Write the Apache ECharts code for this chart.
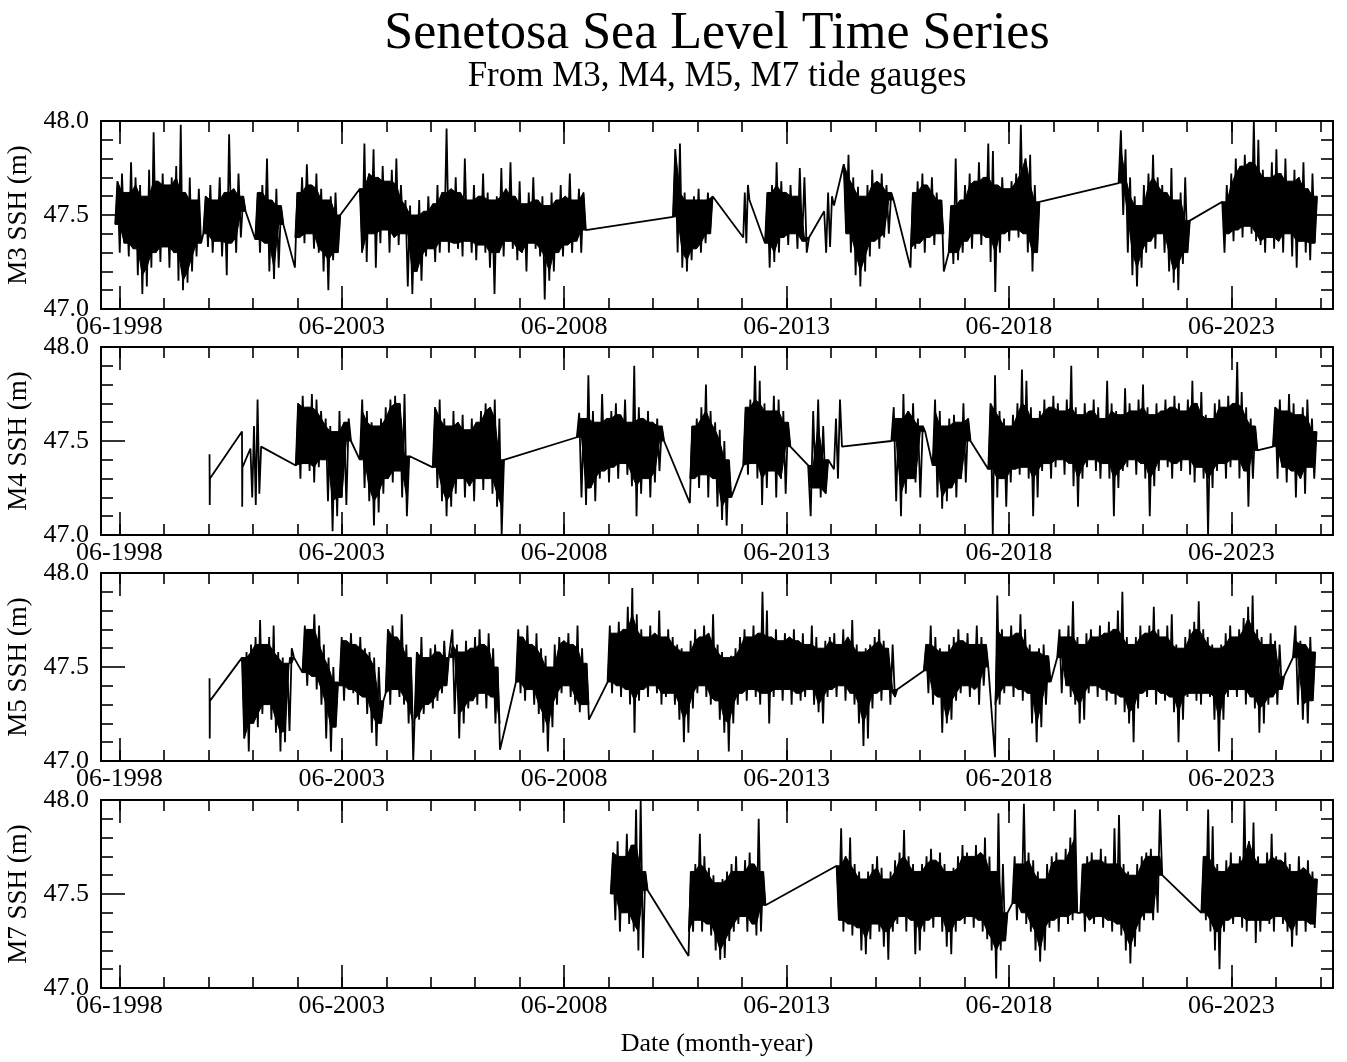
<!DOCTYPE html>
<html>
<head>
<meta charset="utf-8">
<script src="https://cdn.jsdelivr.net/npm/echarts@6/dist/echarts.min.js"></script>
<style>html,body{margin:0;padding:0;background:#fff}#c{width:1347px;height:1062px}</style>
</head>
<body>
<div id="c"></div>
<script>
// ---- Tick labels / axes ----
const majorYears = [1998, 2003, 2008, 2013, 2018, 2023];
const minorYears = [1998,1999,2000,2001,2002,2003,2004,2005,2006,2007,2008,2009,2010,2011,2012,2013,2014,2015,2016,2017,2018,2019,2020,2021,2022,2023,2024,2025];
const gaugeNames = ['M3 SSH (m)', 'M4 SSH (m)', 'M5 SSH (m)', 'M7 SSH (m)'];

// ---- M3: recording spans (decimal years) and sampled SSH values (m) ----
const m3Spans = [[1998.32,2000.25],[2000.30,2001.25],[2001.47,2002.10],[2002.36,2003.38],[2003.82,2008.90],[2010.86,2011.75],[2012.44,2012.58],[2012.93,2013.92],[2014.26,2014.48],[2014.70,2015.82],[2016.20,2016.95],[2017.06,2019.10],[2020.88,2022.48],[2023.21,2025.34]];
const m3Values = [
 [47.45,47.68,47.30,47.72,47.35,47.62,47.28,47.78,47.32,47.70,47.18,47.66,47.08,47.60,47.12,47.74,47.22,47.94,47.30,47.68,47.25,47.72,47.33,47.66,47.22,47.70,47.30,47.76,47.15,47.98,47.10,47.62,47.14,47.70,47.20,47.58,47.28,47.64,47.35],
 [47.40,47.60,47.33,47.66,47.30,47.58,47.36,47.70,47.28,47.62,47.18,47.93,47.35,47.64,47.30,47.72,47.38,47.60,47.52],
 [47.37,47.62,47.30,47.66,47.35,47.80,47.20,47.58,47.16,47.64,47.22,47.55,47.45],
 [47.22,47.62,47.38,47.70,47.35,47.77,47.40,47.66,47.32,47.72,47.30,47.64,47.20,47.58,47.10,47.60,47.26,47.62,47.30,47.50],
 [47.64,47.30,47.88,47.25,47.72,47.40,47.85,47.22,47.70,47.35,47.76,47.42,47.68,47.30,47.74,47.38,47.80,47.34,47.66,47.40,
  47.58,47.12,47.55,47.08,47.50,47.20,47.58,47.15,47.52,47.28,47.60,47.32,47.56,47.25,47.66,47.30,47.62,47.36,47.96,47.30,
  47.64,47.35,47.70,47.32,47.62,47.28,47.80,47.36,47.58,47.30,47.66,47.26,47.60,47.34,47.72,47.30,47.62,47.22,47.58,47.08,
  47.60,47.30,47.75,47.28,47.64,47.36,47.78,47.32,47.60,47.26,47.68,47.30,47.56,47.20,47.62,47.35,47.70,47.32,47.58,47.28,
  47.60,47.05,47.55,47.15,47.62,47.20,47.58,47.30,47.66,47.28,47.60,47.34,47.72,47.30,47.58,47.36,47.64,47.30,47.62,47.42],
 [47.49,47.85,47.30,47.88,47.22,47.62,47.20,47.58,47.26,47.60,47.32,47.64,47.30,47.58,47.35,47.62,47.40,47.60],
 [47.38,47.62,47.35,47.66,47.58],
 [47.35,47.62,47.22,47.66,47.25,47.78,47.30,47.68,47.38,47.62,47.34,47.66,47.40,47.60,47.32,47.75,47.36,47.70,47.30,47.38],
 [47.52,47.30,47.62,47.33,47.60,47.55],
 [47.77,47.40,47.82,47.30,47.70,47.18,47.65,47.12,47.60,47.20,47.66,47.28,47.74,47.36,47.68,47.32,47.72,47.38,47.66,47.40,47.62,47.58],
 [47.22,47.62,47.32,47.68,47.35,47.72,47.30,47.66,47.38,47.70,47.34,47.62,47.40,47.58,47.20],
 [47.30,47.55,47.24,47.80,47.26,47.58,47.30,47.66,47.36,47.72,47.32,47.68,47.40,47.78,47.34,47.70,47.38,47.88,47.25,47.84,47.09,47.66,47.30,47.70,47.40,47.64,47.36,47.68,47.42,47.72,47.38,47.98,47.40,47.80,47.30,47.82,47.20,47.66,47.30,47.57],
 [47.67,47.95,47.50,47.85,47.30,47.70,47.18,47.60,47.12,47.55,47.22,47.66,47.30,47.72,47.36,47.82,47.32,47.70,47.40,47.66,47.30,47.62,47.20,47.75,47.14,47.58,47.10,47.62,47.24,47.70,47.30,47.47],
 [47.57,47.30,47.66,47.40,47.72,47.36,47.80,47.42,47.76,47.38,47.82,47.44,47.78,47.40,48.00,47.36,47.90,47.34,47.74,47.30,47.70,47.38,47.78,47.32,47.85,47.36,47.72,47.30,47.80,47.40,47.68,47.28,47.74,47.22,47.70,47.36,47.78,47.30,47.64,47.26,47.72,47.35,47.60]
];

// ---- M4 ----
const m4Spans = [[2000.44,2000.45],[2001.17,2001.18],[2001.36,2001.60],[2002.38,2003.62],[2003.82,2004.93],[2005.46,2007.06],[2008.70,2010.66],[2011.24,2012.17],[2012.44,2013.50],[2013.90,2014.35],[2014.48,2014.66],[2015.77,2016.53],[2016.70,2017.55],[2017.95,2024.00],[2024.35,2025.33]];
const m4Values = [
 [47.43,47.16,47.30],
 [47.55,47.15,47.36],
 [47.46,47.20,47.58,47.16,47.72,47.22,47.47],
 [47.37,47.70,47.30,47.74,47.38,47.68,47.34,47.75,47.28,47.72,47.36,47.66,47.40,47.62,47.18,47.58,47.02,47.55,47.10,47.66,47.20,47.60,47.16,47.62,47.50],
 [47.40,47.72,47.25,47.66,47.18,47.60,47.05,47.58,47.12,47.62,47.22,47.68,47.30,47.72,47.28,47.74,47.34,47.70,47.20,47.75,47.10,47.42],
 [47.36,47.68,47.25,47.72,47.18,47.62,47.10,47.58,47.15,47.66,47.22,47.60,47.30,47.64,47.20,47.56,47.26,47.62,47.18,47.60,47.30,47.66,47.24,47.70,47.30,47.68,47.22,47.72,47.15,47.62,47.00,47.40],
 [47.52,47.65,47.20,47.62,47.16,47.85,47.25,47.66,47.18,47.60,47.30,47.75,47.34,47.62,47.28,47.66,47.36,47.70,47.30,47.64,47.38,47.72,47.32,47.60,47.26,47.90,47.10,47.68,47.22,47.62,47.30,47.66,47.20,47.60,47.28,47.62,47.34,47.58,47.50],
 [47.17,47.58,47.30,47.62,47.25,47.68,47.32,47.80,47.20,47.66,47.30,47.60,47.15,47.56,47.08,47.50,47.05,47.40,47.20],
 [47.37,47.68,47.32,47.72,47.38,47.90,47.30,47.82,47.16,47.70,47.25,47.66,47.34,47.74,47.20,47.72,47.30,47.66,47.22,47.60,47.47],
 [47.37,47.10,47.66,47.25,47.72,47.20,47.58,47.22,47.40],
 [47.35,47.62,47.30,47.72,47.47],
 [47.50,47.68,47.18,47.62,47.10,47.75,47.22,47.66,47.30,47.70,47.28,47.62,47.20,47.58,47.55],
 [47.37,47.72,47.20,47.66,47.14,47.58,47.18,47.62,47.25,47.64,47.20,47.60,47.30,47.70,47.28,47.62,47.50],
 [47.35,47.70,47.00,47.85,47.20,47.66,47.30,47.62,47.15,47.58,47.28,47.64,47.35,47.70,47.32,47.88,47.36,47.82,47.30,47.68,
  47.10,47.62,47.20,47.66,47.34,47.72,47.38,47.68,47.30,47.74,47.36,47.70,47.40,47.66,47.32,47.72,47.38,47.90,47.26,47.68,
  47.15,47.64,47.30,47.70,47.36,47.66,47.40,47.72,47.34,47.68,47.30,47.62,47.38,47.82,47.30,47.70,47.10,47.66,47.25,47.64,
  47.34,47.78,47.36,47.70,47.40,47.66,47.32,47.72,47.38,47.80,47.30,47.68,47.10,47.64,47.26,47.70,47.34,47.66,47.40,47.72,
  47.36,47.68,47.30,47.74,47.38,47.70,47.34,47.66,47.40,47.72,47.32,47.82,47.28,47.70,47.36,47.76,47.30,47.64,47.00,47.62,
  47.25,47.70,47.34,47.72,47.38,47.68,47.30,47.74,47.36,47.70,47.40,47.92,47.30,47.76,47.34,47.68,47.15,47.62,47.30,47.58,47.45],
 [47.47,47.68,47.30,47.72,47.36,47.66,47.28,47.75,47.34,47.70,47.20,47.64,47.30,47.68,47.22,47.72,47.36,47.62,47.30,47.55]
];

// ---- M5 ----
const m5Spans = [[2000.44,2000.45],[2001.17,2002.34],[2002.53,2003.33],[2003.36,2004.35],[2004.40,2005.02],[2005.05,2005.82],[2005.85,2006.97],[2007.33,2008.97],[2009.39,2015.90],[2016.50,2017.95],[2018.10,2019.35],[2019.50,2024.60],[2024.80,2025.30]];
const m5Values = [
 [47.44,47.12,47.32],
 [47.55,47.12,47.58,47.05,47.62,47.20,47.66,47.18,47.75,47.25,47.62,47.30,47.66,47.22,47.72,47.15,47.58,47.05,47.55,47.10,47.52,47.16,47.60,47.55],
 [47.47,47.72,47.40,47.70,47.45,47.78,47.38,47.72,47.30,47.62,47.12,47.55,47.05,47.50,47.18,47.42],
 [47.40,47.66,47.32,47.64,47.38,47.68,47.36,47.62,47.30,47.66,47.34,47.60,47.25,47.58,47.15,47.55,47.08,47.50,47.20,47.32],
 [47.36,47.70,47.30,47.72,47.38,47.66,47.34,47.78,47.30,47.62,47.20,47.55,47.00],
 [47.00,47.58,47.22,47.66,47.25,47.55,47.30,47.60,47.28,47.62,47.32,47.58,47.36,47.64,47.40,47.55],
 [47.55,47.70,47.25,47.62,47.12,47.58,47.20,47.64,47.28,47.60,47.32,47.66,47.30,47.70,47.36,47.62,47.28,47.68,47.34,47.60,47.20,47.50,47.06],
 [47.42,47.70,47.36,47.66,47.32,47.72,47.38,47.62,47.30,47.68,47.25,47.60,47.15,47.56,47.05,47.50,47.18,47.62,47.30,47.66,47.36,47.64,47.40,47.68,47.34,47.62,47.30,47.72,47.26,47.60,47.30,47.52,47.22],
 [47.42,47.72,47.36,47.68,47.40,47.74,47.34,47.70,47.38,47.82,47.30,47.92,47.15,47.78,47.32,47.70,47.38,47.66,47.34,47.72,
  47.40,47.68,47.36,47.80,47.30,47.66,47.34,47.70,47.36,47.66,47.30,47.62,47.22,47.60,47.10,47.58,47.15,47.64,47.28,47.70,
  47.36,47.66,47.40,47.72,47.34,47.68,47.30,47.78,47.32,47.62,47.22,47.58,47.15,47.55,47.05,47.56,47.20,47.60,47.30,47.66,
  47.36,47.70,47.32,47.66,47.38,47.72,47.34,47.68,47.30,47.90,47.36,47.80,47.20,47.66,47.34,47.70,47.38,47.64,47.32,47.68,
  47.38,47.66,47.30,47.70,47.36,47.64,47.32,47.68,47.34,47.62,47.38,47.72,47.30,47.66,47.26,47.60,47.20,47.64,47.34,47.66,
  47.38,47.68,47.34,47.62,47.40,47.70,47.32,47.66,47.36,47.75,47.30,47.62,47.20,47.58,47.08,47.60,47.12,47.62,47.28,47.66,47.36,47.70,47.32,47.64,47.38,47.60,47.30,47.62,47.34,47.38],
 [47.48,47.62,47.36,47.72,47.30,47.66,47.34,47.60,47.15,47.58,47.20,47.62,47.22,47.66,47.32,47.70,47.36,47.64,47.40,47.68,47.34,47.62,47.38,47.72,47.30,47.66,47.40,47.62,47.50],
 [47.02,47.88,47.30,47.70,47.36,47.66,47.40,47.72,47.34,47.68,47.38,47.78,47.32,47.70,47.36,47.62,47.20,47.58,47.10,47.60,47.18,47.62,47.30,47.56,47.42],
 [47.55,47.70,47.36,47.66,47.40,47.72,47.34,47.85,47.30,47.66,47.20,47.62,47.22,47.68,47.36,47.70,47.40,47.66,47.34,47.72,
  47.38,47.68,47.32,47.74,47.36,47.70,47.30,47.80,47.34,47.90,47.26,47.66,47.20,47.62,47.10,47.66,47.28,47.72,47.36,47.68,
  47.34,47.72,47.38,47.82,47.30,47.70,47.36,47.66,47.32,47.72,47.34,47.78,47.26,47.62,47.10,47.60,47.22,47.66,47.34,47.70,
  47.36,47.74,47.32,47.85,47.30,47.70,47.36,47.66,47.34,47.62,47.22,47.60,47.05,47.62,47.22,47.68,47.34,47.72,47.38,47.66,
  47.34,47.70,47.38,47.76,47.30,47.82,47.34,47.88,47.28,47.70,47.15,47.66,47.20,47.62,47.30,47.68,47.34,47.64,47.30,47.62,47.38,47.45],
 [47.55,47.72,47.30,47.64,47.22,47.62,47.20,47.66,47.32,47.58]
];

// ---- M7 ----
const m7Spans = [[2009.46,2010.29],[2011.21,2012.94],[2014.54,2018.38],[2018.49,2019.95],[2020.02,2021.86],[2022.74,2025.34]];
const m7Values = [
 [47.50,47.72,47.36,47.78,47.30,47.70,47.40,47.82,47.34,47.76,47.30,47.95,47.20,48.00,47.16,47.62,47.52],
 [47.17,47.62,47.30,47.66,47.36,47.82,47.30,47.70,47.34,47.64,47.28,47.60,47.20,47.56,47.15,47.58,47.16,47.62,47.25,47.66,47.30,47.70,47.34,47.62,47.38,47.68,47.30,47.72,47.34,47.66,47.28,47.90,47.30,47.62,47.44],
 [47.65,47.36,47.85,47.30,47.70,47.34,47.80,47.28,47.66,47.32,47.62,47.20,47.58,47.18,47.62,47.26,47.66,47.34,47.70,47.30,
  47.64,47.22,47.58,47.15,47.62,47.30,47.68,47.34,47.72,47.38,47.84,47.30,47.70,47.36,47.66,47.18,47.62,47.20,47.66,47.30,
  47.70,47.36,47.74,47.32,47.68,47.38,47.72,47.30,47.66,47.22,47.62,47.18,47.64,47.30,47.70,47.36,47.76,47.34,47.72,47.38,
  47.70,47.32,47.76,47.36,47.72,47.30,47.80,47.26,47.70,47.20,47.62,47.05,47.93,47.20,47.66,47.25,47.40],
 [47.45,47.70,47.36,47.66,47.40,47.98,47.34,47.72,47.30,47.68,47.20,47.62,47.14,47.58,47.20,47.66,47.32,47.70,47.36,47.72,47.30,47.68,47.38,47.74,47.34,47.80,47.36,47.95,47.40],
 [47.40,47.66,47.30,47.70,47.36,47.72,47.34,47.68,47.38,47.74,47.32,47.70,47.36,47.66,47.30,47.85,47.34,47.92,47.28,47.66,47.20,47.62,47.13,47.60,47.22,47.66,47.30,47.70,47.36,47.72,47.40,47.74,47.36,47.70,47.40,47.95,47.60],
 [47.40,47.70,47.36,47.95,47.30,47.86,47.20,47.66,47.10,47.62,47.30,47.68,47.36,47.72,47.34,47.66,47.38,47.70,47.32,48.00,47.30,47.78,47.36,47.88,47.24,47.70,47.30,47.66,47.36,47.72,47.34,47.82,47.30,47.70,47.38,47.68,47.34,47.72,47.30,47.66,47.22,47.62,47.28,47.70,47.36,47.64,47.30,47.68,47.34,47.62,47.32,47.58]
];

// ---- build ----
const FONT = 'Liberation Serif';
const JUNE = 151 / 365;
const CORE_INSET = 0.0; // rendering: how far the solid core sits inside the typical high/low levels
function segmentPoints(sp, v) {
  const n = v.length;
  return v.map((val, i) => [n > 1 ? sp[0] + (sp[1] - sp[0]) * i / (n - 1) : sp[0], val]);
}
function buildPoints(spans, values) {
  let pts = [];
  spans.forEach((sp, j) => { pts = pts.concat(segmentPoints(sp, values[j])); });
  return pts;
}
const gauges = [[m3Spans, m3Values], [m4Spans, m4Values], [m5Spans, m5Values], [m7Spans, m7Values]];
const majorVals = majorYears.map(y => y + JUNE);
const minorVals = minorYears.map(y => y + JUNE);
const gridTops = [121, 347, 573, 800];
const X_MIN = 1998.0, X_MAX = 2025.7;

// solid core of the dense record: between the eroded highs and dilated lows of each recording span
function bandRenderer(spans, values) {
  return function (params, api) {
    const j = params.dataIndex;
    const pts = segmentPoints(spans[j], values[j]);
    const n = pts.length;
    if (n < 8) return null;
    const tops = [], bots = [];
    for (let i = 0; i < n; i++) {
      const v = pts[i][1];
      const pv = i > 0 ? pts[i - 1][1] : null, nv = i < n - 1 ? pts[i + 1][1] : null;
      if ((pv === null || v >= pv) && (nv === null || v >= nv)) tops.push(pts[i]);
      if ((pv === null || v <= pv) && (nv === null || v <= nv)) bots.push(pts[i]);
    }
    if (tops.length < 3 || bots.length < 3) return null;
    const upper = tops.map((p, k) => {
      const a = tops[Math.max(0, k - 1)][1], c = tops[Math.min(tops.length - 1, k + 1)][1];
      return api.coord([p[0], Math.min(a, p[1], c) - CORE_INSET]);
    });
    const lower = bots.map((p, k) => {
      const a = bots[Math.max(0, k - 1)][1], c = bots[Math.min(bots.length - 1, k + 1)][1];
      return api.coord([p[0], Math.max(a, p[1], c) + CORE_INSET]);
    });
    return { type: 'polygon', shape: { points: upper.concat(lower.reverse()) },
      style: { fill: '#000', stroke: '#000', lineWidth: 1 } };
  };
}

const grids = [], xAxes = [], yAxes = [], series = [];
gridTops.forEach((top, g) => {
  grids.push({ left: 101, top: top, width: 1232, height: 188, show: false, outerBoundsMode: 'none' });
  const base = { type: 'value', gridIndex: g, min: X_MIN, max: X_MAX, splitLine: { show: false }, axisPointer: { show: false } };
  const lineOn = { show: true, onZero: false, lineStyle: { color: '#000', width: 2 } };
  xAxes.push(Object.assign({}, base, {
    position: 'bottom', axisLine: lineOn,
    axisTick: { show: true, inside: true, length: 23, customValues: majorVals, lineStyle: { color: '#000', width: 1.6 } },
    axisLabel: { show: true, customValues: majorVals, margin: 5, color: '#000', fontFamily: FONT, fontSize: 26,
      formatter: v => '06-' + Math.round(v - JUNE) },
    name: g === 3 ? 'Date (month-year)' : '', nameLocation: 'middle', nameGap: 43,
    nameTextStyle: { color: '#000', fontFamily: FONT, fontSize: 26 }
  }));
  xAxes.push(Object.assign({}, base, {
    position: 'bottom', axisLine: { show: false },
    axisTick: { show: true, inside: true, length: 11, customValues: minorVals, lineStyle: { color: '#000', width: 1.6 } },
    axisLabel: { show: false }
  }));
  xAxes.push(Object.assign({}, base, {
    position: 'top', axisLine: lineOn,
    axisTick: { show: true, inside: true, length: 23, customValues: majorVals, lineStyle: { color: '#000', width: 1.6 } },
    axisLabel: { show: false }
  }));
  xAxes.push(Object.assign({}, base, {
    position: 'top', axisLine: { show: false },
    axisTick: { show: true, inside: true, length: 11, customValues: minorVals, lineStyle: { color: '#000', width: 1.6 } },
    axisLabel: { show: false }
  }));
  const ybase = { type: 'value', gridIndex: g, min: 47, max: 48, interval: 0.5, splitLine: { show: false },
    axisLine: { show: true, onZero: false, lineStyle: { color: '#000', width: 2 } },
    axisTick: { show: true, inside: true, length: 24, lineStyle: { color: '#000', width: 1.6 } },
    minorTick: { show: true, splitNumber: 5, length: 12, lineStyle: { color: '#000', width: 1.6 } },
    minorSplitLine: { show: false }, axisPointer: { show: false } };
  yAxes.push(Object.assign({}, ybase, {
    position: 'left',
    axisLabel: { show: true, margin: 12, color: '#000', fontFamily: FONT, fontSize: 26, formatter: v => v.toFixed(1) },
    name: gaugeNames[g], nameLocation: 'middle', nameRotate: 90, nameGap: 66,
    nameTextStyle: { color: '#000', fontFamily: FONT, fontSize: 27 }
  }));
  yAxes.push(Object.assign({}, ybase, { position: 'right', axisLabel: { show: false } }));
  const sp = gauges[g][0], vals = gauges[g][1];
  series.push({
    type: 'custom', xAxisIndex: g * 4, yAxisIndex: g * 2, silent: true, clip: true,
    data: sp.map((s, j) => [s[0], vals[j][0]]),
    renderItem: bandRenderer(sp, vals), z: 2
  });
  series.push({
    type: 'line', xAxisIndex: g * 4, yAxisIndex: g * 2, data: buildPoints(sp, vals),
    showSymbol: false, symbol: 'none', sampling: null, silent: true, clip: true, z: 3,
    lineStyle: { color: '#000', width: 1.8, join: 'bevel' }
  });
});

const chart = echarts.init(document.getElementById('c'), null, { renderer: 'canvas' });
chart.setOption({
  backgroundColor: '#fff',
  animation: false,
  grid: grids, xAxis: xAxes, yAxis: yAxes, series: series,
  graphic: [
    { type: 'text', x: 717, y: 34, silent: true, style: { text: 'Senetosa Sea Level Time Series', fill: '#000', font: '52px "Liberation Serif"', textAlign: 'center', textVerticalAlign: 'middle' } },
    { type: 'text', x: 717, y: 77, silent: true, style: { text: 'From M3, M4, M5, M7 tide gauges', fill: '#000', font: '35px "Liberation Serif"', textAlign: 'center', textVerticalAlign: 'middle' } }
  ]
});
</script>
</body>
</html>
